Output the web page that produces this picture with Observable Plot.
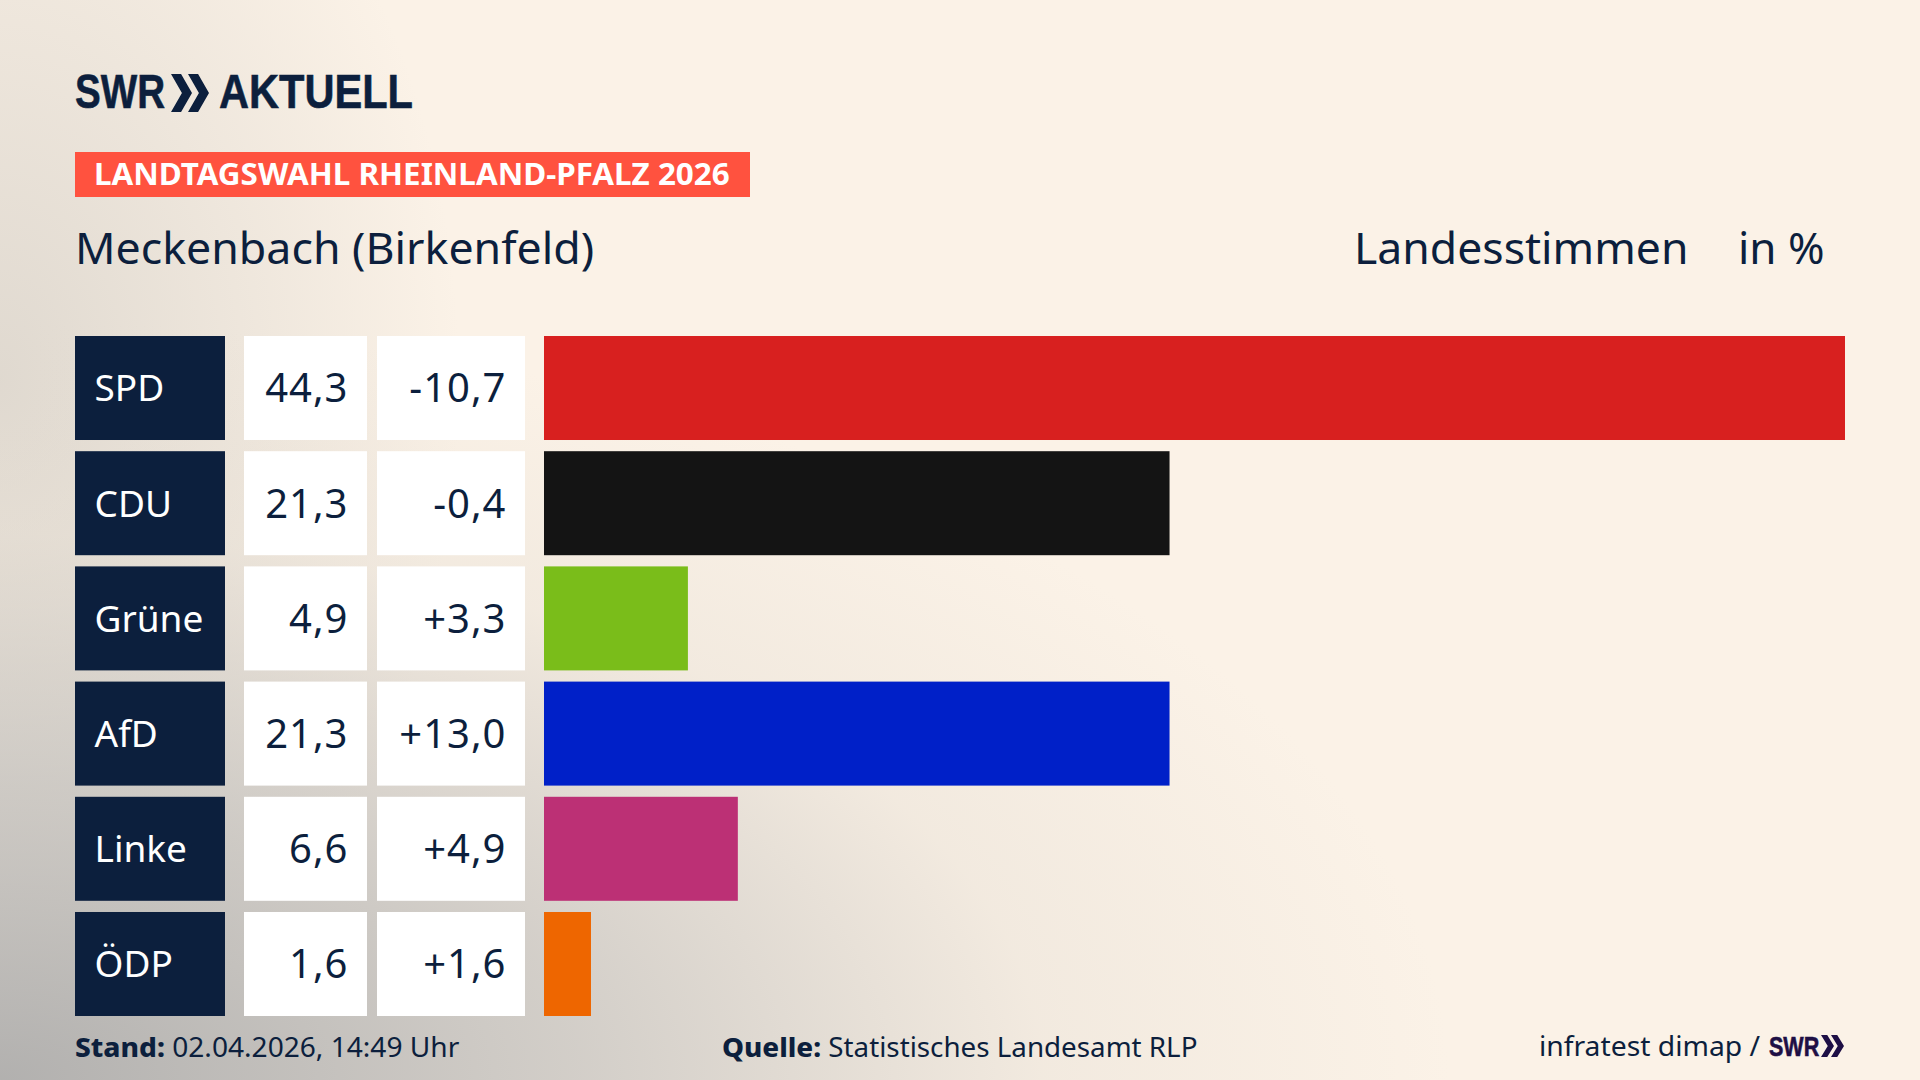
<!DOCTYPE html>
<html lang="de">
<head>
<meta charset="utf-8">
<title>Landtagswahl Rheinland-Pfalz 2026 – Meckenbach (Birkenfeld)</title>
<script src="https://cdn.jsdelivr.net/npm/d3@7"></script>
<script src="https://cdn.jsdelivr.net/npm/@observablehq/plot@0.6"></script>
<style>
  html, body { margin: 0; padding: 0; width: 1920px; height: 1080px; overflow: hidden; }
  body {
    position: relative; color: #0c1f3d; font-family: "Noto Sans", sans-serif;
    background-color: #fbf2e7;
    background-image:
      radial-gradient(ellipse 1450px 760px at 0 1080px, rgba(165,165,165,.85) 0%, rgba(190,188,185,.66) 40%, rgba(225,218,208,.34) 72%, rgba(251,242,231,0) 100%),
      radial-gradient(ellipse 460px 680px at 0 380px, rgba(205,200,192,.6) 0%, rgba(251,242,231,0) 100%);
  }
  .abs { position: absolute; white-space: nowrap; line-height: 1; transform-origin: 0 50%; }
  .logo { font-family: "Liberation Sans", sans-serif; font-weight: 700; font-size: 48px; color: #0c1f3d; -webkit-text-stroke: .6px currentColor; }
  .chev { position: absolute; background: currentColor; clip-path: polygon(0 0, 48% 0, 100% 50%, 48% 100%, 0 100%, 52% 50%); }
  .tag { left: 75px; top: 152px; width: 675px; height: 45px; background: #ff523f; }
  .tagText { left: 94px; top: 158px; font-weight: 700; font-size: 31px; color: #fff; }
  .sub { font-size: 44px; }
  .foot { font-size: 27px; }
  .foot b { font-weight: 800; }
  #rows { position: absolute; left: 75px; top: 336px; display: grid; grid-template-columns: 150px 142px 158px 1320px; }
  #rows > :nth-child(2) { margin-left: 19px; }
  #rows > :nth-child(3) { margin-left: 10px; }
  #rows > :nth-child(4) { margin-left: 19px; }
  #rows > :nth-child(2) text, #rows > :nth-child(3) text { letter-spacing: 1px; }
</style>
</head>
<body>
<div class="abs logo" data-w="90" style="left:75px;top:68px">SWR</div>
<span class="chev" style="left:171px;top:74px;width:21px;height:38px"></span>
<span class="chev" style="left:188px;top:74px;width:21px;height:38px"></span>
<div class="abs logo" data-w="194" style="left:219px;top:68px">AKTUELL</div>

<div class="abs tag"></div>
<div class="abs tagText" data-w="636">LANDTAGSWAHL RHEINLAND-PFALZ 2026</div>

<div class="abs sub" data-w="519" style="left:75px;top:225px">Meckenbach (Birkenfeld)</div>
<div class="abs sub" data-w="334" style="left:1354px;top:225px">Landesstimmen</div>
<div class="abs sub" data-w="87" style="left:1738px;top:225px">in %</div>

<div id="rows"></div>

<div class="abs foot" data-w="384" style="left:75px;top:1033px"><b>Stand:</b> 02.04.2026, 14:49 Uhr</div>
<div class="abs foot" data-w="475" style="left:722px;top:1033px"><b>Quelle:</b> Statistisches Landesamt RLP</div>
<div class="abs foot" data-w="221" style="left:1539px;top:1032px">infratest dimap /</div>
<div class="abs logo" data-w="50" style="left:1769px;top:1033px;font-size:28px;color:#1e0f45">SWR</div>
<span class="chev" style="left:1821px;top:1035px;width:13px;height:22px;color:#1e0f45"></span>
<span class="chev" style="left:1831px;top:1035px;width:13px;height:22px;color:#1e0f45"></span>

<script>
const parties = ["SPD", "CDU", "Grüne", "AfD", "Linke", "ÖDP"];
const shares = [44.3, 21.3, 4.9, 21.3, 6.6, 1.6];
const changes = [-10.7, -0.4, 3.3, 13.0, 4.9, 1.6];
const partyColors = ["#d8201f", "#141414", "#7abd1a", "#0020c8", "#bc3075", "#ee6600"];

const navy = "#0c1f3d";
const rowsHeight = 680;
const comma = v => v.toFixed(1).replace(".", ",");
const signed = v => (v > 0 ? "+" : "") + comma(v);
const rows = parties.map((party, i) => ({party, share: shares[i], change: changes[i]}));

const base = width => ({
  width, height: rowsHeight, margin: 0,
  style: {background: "transparent", fontFamily: '"Noto Sans", sans-serif'},
  y: {domain: parties, axis: null, paddingInner: 0.0972, paddingOuter: 0, round: false}
});

const panels = [
  Plot.plot({...base(150), marks: [
    Plot.cell(rows, {y: "party", fill: navy}),
    Plot.text(rows, {y: "party", fontSize: 37, text: "party", fill: "#fff", frameAnchor: "left", dx: 19, dy: 1})
  ]}),
  Plot.plot({...base(123), marks: [
    Plot.cell(rows, {y: "party", fill: "#fff"}),
    Plot.text(rows, {y: "party", fontSize: 40, text: d => comma(d.share), fill: navy, frameAnchor: "right", dx: -19, dy: 1})
  ]}),
  Plot.plot({...base(148), marks: [
    Plot.cell(rows, {y: "party", fill: "#fff"}),
    Plot.text(rows, {y: "party", fontSize: 40, text: d => signed(d.change), fill: navy, frameAnchor: "right", dx: -19, dy: 1})
  ]}),
  Plot.plot({...base(1301),
    x: {domain: [0, d3.max(shares)], axis: null},
    color: {domain: parties, range: partyColors},
    marks: [Plot.barX(rows, {x: "share", y: "party", fill: "party"})]
  })
];
const host = document.getElementById("rows");
panels.forEach(p => host.appendChild(p));

document.querySelectorAll("[data-w]").forEach(el => {
  el.style.transform = `scaleX(${+el.dataset.w / el.offsetWidth})`;
});
</script>
</body>
</html>
